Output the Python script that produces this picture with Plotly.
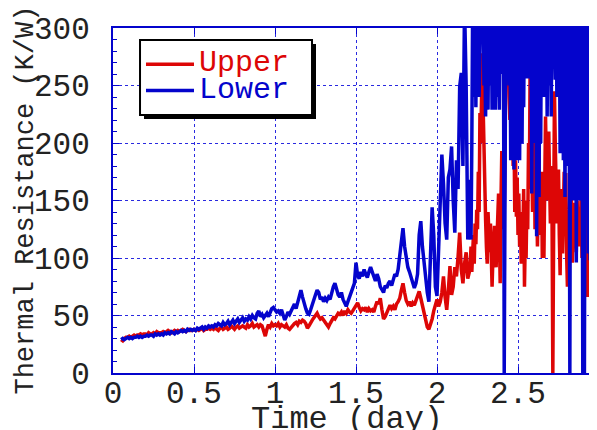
import numpy as np
import plotly.graph_objects as go

# sampling instants: every 0.01 day up to 2.20, then every 0.005 day up to 3.00
time_day = np.round(np.concatenate([np.arange(5, 221) * 0.01,
                                    np.arange(441, 601) * 0.005]), 3)

# thermal resistance (K/W); >300 runs off the top of the axis
upper_early = [
    29, 28, 30, 31, 31,
    32, 31, 32, 33, 32, 33, 33, 34, 33, 34,
    34, 33, 35, 34, 34, 35, 34, 36, 35, 35,
    35, 36, 35, 36, 37, 36, 35, 36, 37, 36,
    37, 36, 37, 38, 37, 36, 37, 38, 37, 37,
    38, 37, 38, 37, 38, 39, 37, 38, 38, 39,
    38, 39, 38, 40, 38, 37, 39, 40, 38, 39,
    40, 38, 39, 41, 39, 38, 40, 41, 39, 40,
    41, 40, 39, 42, 40, 41, 43, 40, 41, 42,
    40, 42, 41, 35, 32, 38, 42, 40, 43, 41,
    42, 41, 43, 40, 42, 41, 40, 42, 39, 38,
    40, 42, 43, 44, 42, 45, 44, 46, 45, 43,
    39, 41, 44, 46, 48, 50, 52, 49, 47, 48,
    46, 44, 41, 40, 43, 46, 48, 47, 50, 52,
    51, 53, 50, 54, 52, 55, 53, 52, 54, 56,
    58, 61, 57, 54, 56, 55, 57, 53, 56, 54,
    55, 53, 58, 62, 60, 65, 55, 47, 49, 53,
    57, 59, 56, 58, 55, 60, 62, 65, 72, 78,
    70, 63, 60, 62, 58, 61, 59, 63, 67, 71,
    65, 58, 52, 45, 40, 38, 42, 47, 54, 60,
    64, 58, 62, 70, 84, 66, 55, 72, 93, 68,
    75, 92, 84, 101, 122, 90, 78, 95, 105, 82,
    88,
]
upper_late = [
    95, 110, 88, 102, 120, 95, 130, 112, 142, 125,
    175, 140, 226, 200, 270, 278, 230, 180, 150, 133,
    110, 95, 140, 120, 105, 130, 90, 75, 100, 110,
    128, 95, 92, 115, 140, 156, 120, 78, 150, 193,
    150, 125, 140, 193, 320, 300, 320, 266, 240, 220,
    260, 200, 230, 180, 217, 140, 185, 136, 170, 120,
    156, 110, 130, 95, 140, 120, 160, 75, 118, 100,
    150, 125, 200, 160, 274, 230, 180, 140, 160, 205,
    125, 170, 160, 110, 150, 190, 120, 145, 175, 100,
    140, 100, 170, 223, 180, 150, 200, 210, 165, 130,
    180, 140, 0, 120, 245, 200, 170, 130, 150, 177,
    120, 85, 140, 160, 104, 130, 175, 140, 174, 104,
    75, 130, 84, 160, 180, 150, 96, 120, 148, 110,
    135, 105, 150, 120, 140, 110, 125, 160, 100, 140,
    120, 150, 110, 200, 290, 66, 122, 150, 110, 170,
    200, 160, 120, 84, 258, 180, 120, 230, 150, 160,
]

lower_early = [
    29, 30, 29, 30, 31,
    30, 31, 30, 31, 31, 32, 31, 32, 31, 32,
    32, 33, 32, 33, 33, 32, 34, 33, 34, 33,
    34, 33, 35, 34, 35, 34, 36, 35, 34, 36,
    35, 36, 37, 36, 37, 36, 38, 37, 38, 37,
    38, 37, 39, 38, 39, 40, 38, 40, 39, 41,
    40, 41, 40, 42, 41, 43, 42, 41, 44, 42,
    43, 45, 42, 44, 46, 43, 45, 47, 44, 46,
    48, 45, 47, 46, 49, 47, 50, 48, 47, 52,
    54, 49, 51, 48, 50, 52, 49, 53, 56, 57,
    55, 53, 54, 52, 55, 50, 46, 49, 53, 51,
    54, 57, 60, 56, 62, 68, 72, 66, 60, 56,
    52, 51, 55, 60, 64, 68, 72, 70, 64, 66,
    62, 65, 63, 66, 64, 70, 75, 78, 72, 68,
    66, 70, 64, 60, 58, 62, 66, 70, 72, 78,
    96, 85, 82, 88, 84, 90, 86, 83, 88, 92,
    88, 84, 80, 86, 82, 75, 72, 70, 76, 74,
    78, 80, 76, 82, 86, 84, 90, 102, 115, 126,
    110, 98, 92, 88, 84, 80, 74, 78, 86, 120,
    132, 110, 95, 80, 70, 62, 100, 144, 120, 75,
    67, 110, 153, 190, 165, 130, 116, 170, 177, 197,
    150, 122, 185, 160, 249, 261, 180, 320, 250, 116,
    168,
]
lower_late = [
    150, 116, 200, 320, 240, 300, 320, 231, 320, 260,
    300, 240, 320, 320, 320, 320, 320, 250, 280, 223,
    320, 260, 229, 320, 300, 250, 320, 229, 320, 280,
    320, 229, 300, 320, 240, 320, 229, 320, 260, 320,
    280, 320, 0, 320, 320, 320, 320, 320, 250, 320,
    185, 320, 250, 320, 177, 320, 240, 185, 320, 200,
    320, 185, 320, 260, 200, 320, 231, 320, 256, 320,
    280, 320, 256, 320, 320, 320, 156, 320, 200, 320,
    220, 320, 119, 320, 250, 153, 320, 200, 320, 270,
    320, 240, 320, 260, 320, 223, 320, 300, 250, 320,
    223, 320, 280, 320, 300, 255, 320, 240, 320, 260,
    320, 191, 320, 230, 320, 185, 320, 153, 320, 240,
    320, 180, 320, 0, 320, 240, 320, 150, 320, 210,
    320, 96, 320, 250, 320, 150, 320, 260, 320, 0,
    320, 0, 320, 320, 320, 320, 104, 320, 98, 320,
    0, 320, 240, 320, 122, 320, 260, 320, 200, 320,
]

upper_kw = upper_early + upper_late
lower_kw = lower_early + lower_late

RED = '#dd0606'
BLUE = '#0404cc'
INK = '#222222'
FONT = 'Liberation Mono, Courier New, monospace'

fig = go.Figure()

fig.add_trace(go.Scatter(
    x = time_day, y = upper_kw,
    mode = 'lines',
    name = '<span style="color:%s;font-size:30px">Upper</span>' % RED,
    line = dict(color = RED, width = 3.5)
))
fig.add_trace(go.Scatter(
    x = time_day, y = lower_kw,
    mode = 'lines',
    name = '<span style="color:%s;font-size:30px">Lower</span>' % BLUE,
    line = dict(color = BLUE, width = 3.5)
))

axis_style = dict(
    showline = True, linecolor = BLUE, linewidth = 2, mirror = 'allticks',
    ticks = 'inside', ticklen = 6, tickcolor = BLUE,
    showgrid = True, gridcolor = '#2a2ae0', gridwidth = 1, griddash = 'dot',
    zeroline = False, automargin = False, ticklabeloverflow = 'allow',
    tickfont = dict(family = FONT, size = 31, color = INK),
)

fig.update_xaxes(range = [0, 3], dtick = 0.5, tick0 = 0, ticklabelstandoff = -9, **axis_style)
fig.update_yaxes(
    range = [0, 300], dtick = 50, tick0 = 0,
    minor = dict(dtick = 10, ticks = 'inside', ticklen = 4, tickcolor = BLUE, showgrid = False),
    ticklabelstandoff = 15,
    **axis_style
)

# axis titles
fig.add_annotation(
    text = 'Time (day)', xref = 'paper', yref = 'paper', x = 0.4825, y = 0,
    xanchor = 'center', yanchor = 'middle', yshift = -46, showarrow = False,
    font = dict(family = FONT, size = 32, color = INK)
)
fig.add_annotation(
    text = 'Thermal Resistance (K/W)', xref = 'paper', yref = 'paper', x = -0.181, y = 0.5,
    xanchor = 'center', yanchor = 'middle', textangle = -90, showarrow = False,
    font = dict(family = FONT, size = 27, color = INK)
)

# legend frame with its drop shadow
fig.add_shape(
    type = 'rect', xref = 'paper', yref = 'paper',
    x0 = 0.0638, x1 = 0.4177, y0 = 0.7362, y1 = 0.9536,
    fillcolor = 'black', line = dict(width = 0), layer = 'above'
)
fig.add_shape(
    type = 'rect', xref = 'paper', yref = 'paper',
    x0 = 0.0556, x1 = 0.4095, y0 = 0.7478, y1 = 0.9652,
    fillcolor = 'white', line = dict(color = 'black', width = 2), layer = 'above'
)

fig.update_layout(
    width = 597,
    height = 430,
    margin = dict(l = 105, r = 6, t = 20, b = 65),
    plot_bgcolor = 'white',
    paper_bgcolor = 'white',
    showlegend = True,
    legend = dict(
        x = 0.0576, y = 0.948, xanchor = 'left', yanchor = 'top',
        bgcolor = 'rgba(0,0,0,0)', borderwidth = 0,
        font = dict(family = FONT, size = 18),
        itemwidth = 48, tracegroupgap = 0,
    ),
)

fig.write_html("out.html")
